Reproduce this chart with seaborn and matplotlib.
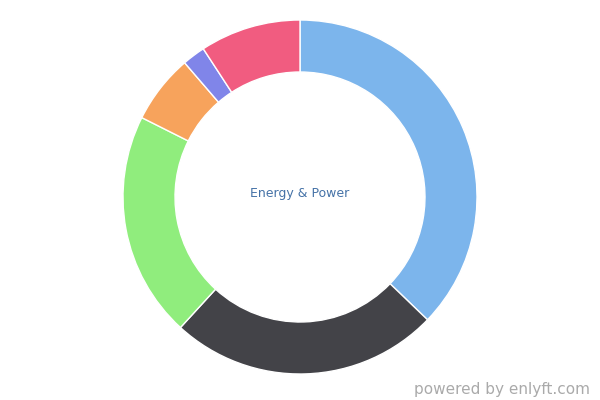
import matplotlib
matplotlib.use("Agg")
import matplotlib.pyplot as plt
import seaborn as sns

sns.set_theme(style="white")
plt.rcParams['font.family'] = ['DejaVu Sans']

# slice shares (percent), clockwise from the top
segments = ["Segment A", "Segment B", "Segment C", "Segment D", "Segment E", "Segment F"]
shares = [37.2, 24.6, 20.6, 6.3, 2.1, 9.2]
colors = ["#7cb5ec", "#434348", "#90ed7d", "#f7a35c", "#8085e9", "#f15c80"]
center_label = "Energy & Power"

fig = plt.figure(figsize=(6, 4), dpi=100)
ax = fig.add_axes([0, 0, 1, 1])

ax.pie(shares, colors=colors, startangle=90, counterclock=False,
       center=(300, 203), radius=177,
       wedgeprops=dict(width=52, edgecolor="white", linewidth=1))

ax.set_xlim(0, 600)
ax.set_ylim(0, 400)
ax.set_aspect("equal")
ax.axis("off")

ax.text(300, 207, center_label, ha="center", va="center",
        fontsize=9, color="#4572a7")
fig.text(0.983, 0.008, "powered by enlyft.com", ha="right", va="bottom",
         fontsize=11, color="#aaaaaa")

fig.savefig("out.png", dpi=100)
